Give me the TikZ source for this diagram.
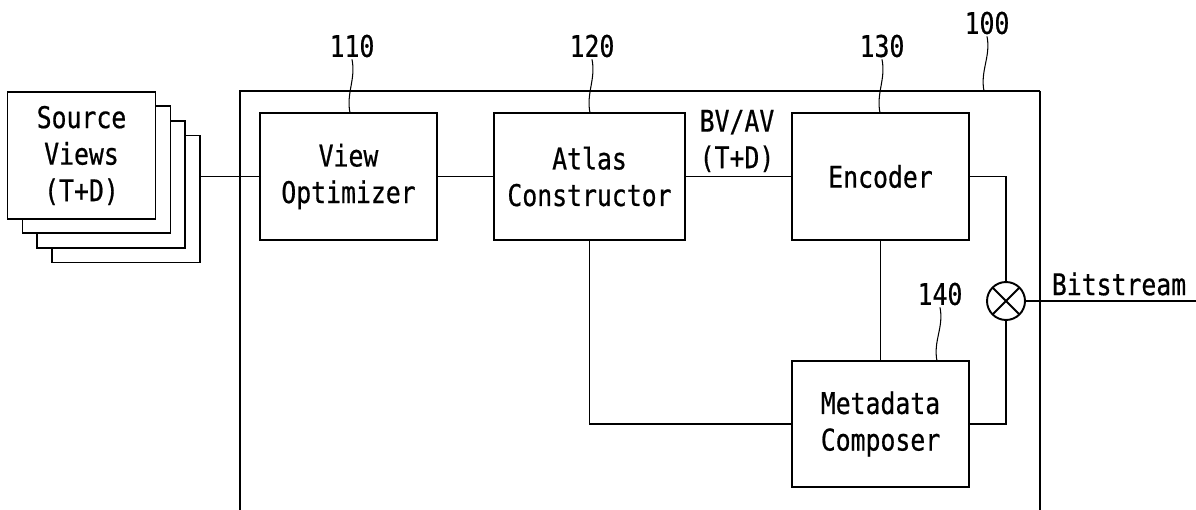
\documentclass[tikz,border=0pt]{standalone}
\usepackage{fontspec}
\setmainfont[FakeStretch=0.83,FakeBold=0.6]{DejaVu Sans Mono}
\usetikzlibrary{positioning,calc}

\begin{document}
\begin{tikzpicture}[x=0.02cm, y=-0.02cm,
    blk/.style={draw, line width=1.1pt, fill=white, align=center, inner sep=0pt, outer sep=0pt,
                minimum width=3.54cm, minimum height=2.54cm, font=\fontsize{17}{20.8}\selectfont},
    wire/.style={line width=0.75pt},
    lbl/.style={align=center, inner sep=1pt, font=\fontsize{17}{20.8}\selectfont},
    lead/.style={line width=0.6pt}]
  \useasboundingbox (0,0) rectangle (1196,510);
  % apparatus 100
  \draw[line width=0.85pt] (240,510) -- (240,91) -- (1040,91);
  \draw[line width=1.6pt] (1040,91) -- (1040,510);
  % stacked source views
  \foreach \k/\dx/\dy in {3/44.5/43.5,2/29.5/29,1/15/14}{
    \node[blk, minimum width=2.96cm] (sv\k) at (81.5+\dx,155.5+\dy) {};
  }
  \node[blk, minimum width=2.96cm] (sv) at (81.5,155.5) {Source\\Views\\(T+D)};
  % blocks
  \node[blk] (vo) at (348.5,176.5) {View\\Optimizer};
  \node[blk, minimum width=3.82cm] (ac) at (589.5,176.5) {Atlas\\Constructor};
  \node[blk] (enc) at (880.5,176.5) {Encoder};
  \node[blk, minimum height=2.52cm] (mc) at (880.5,424) {Metadata\\Composer};
  \node[draw, circle, line width=1.1pt, minimum size=0.76cm, inner sep=0pt, outer sep=0pt] (mux) at (1006,301) {};
  \draw[line width=1.1pt] (mux.north west) -- (mux.south east) (mux.north east) -- (mux.south west);
  % connections
  \draw[wire] (sv3.east |- vo.west) -- (vo.west);
  \draw[wire] (vo.east) -- (ac.west);
  \draw[wire] (ac.east) -- (enc.west);
  \draw[wire] (enc.south) -- (mc.north);
  \draw[wire] (ac.south) |- (mc.west);
  \draw[wire] (enc.east) -| (mux.north);
  \draw[wire] (mc.east) -| (mux.south);
  \coordinate (bsout) at (1196,301);
  \draw[wire] (mux.east) -- (bsout);
  \node[lbl] (bs) at (1119,284) {Bitstream};
  \node[lbl] (bvav) at (737,141) {BV/AV\\(T+D)};
  % reference numerals
  \coordinate (t100) at (984,91);
  \coordinate (t110) at (350,113);
  \coordinate (t120) at (590,113);
  \coordinate (t130) at (880,113);
  \coordinate (t140) at (937,361);
  \foreach \n/\lx/\ly in {100/987/23,110/352/46,120/592/46,130/882/46,140/940/294}{
    \node[lbl] (n\n) at (\lx,\ly) {\n};
    \draw[lead] (n\n.south) .. controls +(4,20) and +(-4,-20) .. (t\n);
  }
\end{tikzpicture}
\end{document}
